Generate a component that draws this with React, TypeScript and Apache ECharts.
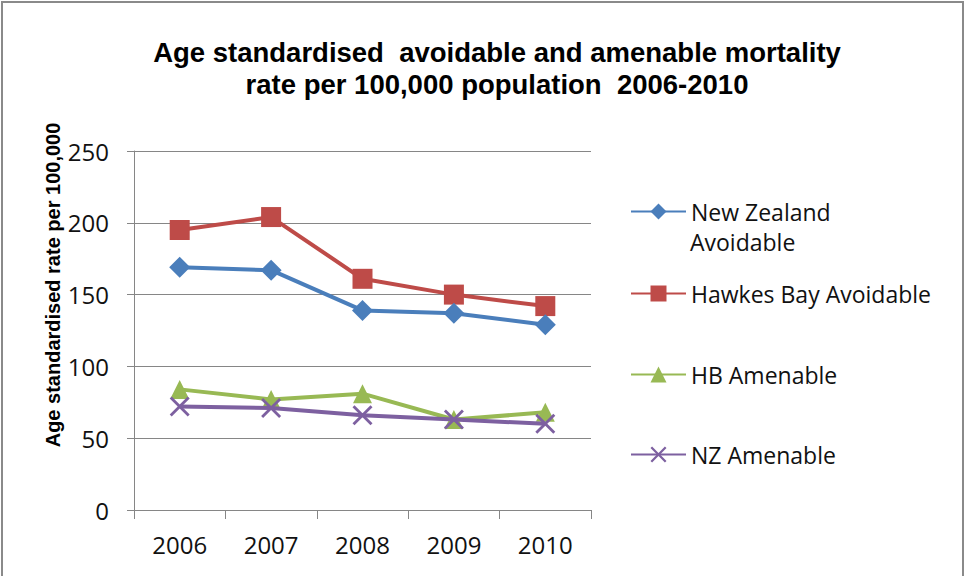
import React, { useEffect, useRef } from "react";
import * as echarts from "echarts";

// Years on the category axis
const years = ["2006", "2007", "2008", "2009", "2010"];

// Age standardised rates per 100,000
const nzAvoidable = [169, 167, 139, 137, 129];
const hbAvoidable = [195, 204, 161, 150, 142];
const hbAmenable = [84, 77, 81, 63, 68];
const nzAmenable = [72, 71, 66, 63, 60];

const seriesNames = [
  "New Zealand Avoidable",
  "Hawkes Bay Avoidable",
  "HB Amenable",
  "NZ Amenable",
];

const TEXT_FONT = "'Open Sans', 'Noto Sans', sans-serif";
const BOLD_FONT = "'Liberation Sans', Arial, sans-serif";

// Filled cross used as the "x" marker
const CROSS =
  "path://M0,1 L1,0 L5,4 L9,0 L10,1 L6,5 L10,9 L9,10 L5,6 L1,10 L0,9 L4,5 Z";

export default function App() {
  const ref = useRef<HTMLDivElement>(null);

  useEffect(() => {
    if (!ref.current) return;
    const chart = echarts.init(ref.current, undefined, { renderer: "svg" });

    const legendBase = (name: string, top: number, formatter?: string) => ({
      orient: "vertical",
      left: 630,
      top,
      padding: 0,
      itemWidth: 55,
      itemHeight: 20,
      itemGap: 5,
      data: [name],
      formatter: formatter ?? "{name}",
      textStyle: { fontFamily: TEXT_FONT, fontSize: 23, color: "#111" },
    });

    chart.setOption({
      animation: false,
      backgroundColor: "#ffffff",
      title: {
        text:
          "Age standardised  avoidable and amenable mortality\nrate per 100,000 population  2006-2010",
        left: 492,
        top: 31,
        textAlign: "center",
        textStyle: {
          fontFamily: BOLD_FONT,
          fontWeight: "bold",
          fontSize: 27.5,
          lineHeight: 32,
          color: "#000",
        },
      },
      legend: [
        legendBase(seriesNames[0], 200, "New Zealand"),
        legendBase(seriesNames[1], 282),
        legendBase(seriesNames[2], 363),
        legendBase(seriesNames[3], 443),
      ],
      graphic: [
        {
          type: "rect",
          shape: { x: 2, y: 2, width: 961, height: 590 },
          style: { fill: "none", stroke: "#8a8a8a", lineWidth: 2 },
          silent: true,
        },
        {
          type: "text",
          x: 690,
          y: 242,
          style: {
            text: "Avoidable",
            fontFamily: TEXT_FONT,
            fontSize: 23,
            fill: "#111",
            textVerticalAlign: "middle",
          },
        },
        {
          type: "text",
          x: 53,
          y: 285,
          rotation: Math.PI / 2,
          style: {
            text: "Age standardised rate per 100,000",
            fontFamily: BOLD_FONT,
            fontWeight: "bold",
            fontSize: 20,
            fill: "#000",
            textAlign: "center",
            textVerticalAlign: "middle",
          },
        },
      ],
      grid: { left: 134, right: 375, top: 151, bottom: 66 },
      xAxis: {
        type: "category",
        data: years,
        boundaryGap: true,
        axisLine: { lineStyle: { color: "#868686", width: 1 } },
        axisTick: { show: true, length: 9, lineStyle: { color: "#868686" } },
        axisLabel: {
          margin: 22,
          fontFamily: TEXT_FONT,
          fontSize: 24,
          color: "#111",
        },
      },
      yAxis: {
        type: "value",
        min: 0,
        max: 250,
        interval: 50,
        axisLine: { show: true, lineStyle: { color: "#868686", width: 1 } },
        axisTick: { show: true, length: 7, lineStyle: { color: "#868686" } },
        splitLine: { lineStyle: { color: "#868686", width: 1 } },
        axisLabel: {
          margin: 25,
          fontFamily: TEXT_FONT,
          fontSize: 24,
          color: "#111",
        },
      },
      series: [
        {
          name: seriesNames[0],
          type: "line",
          data: nzAvoidable,
          symbol: "diamond",
          symbolSize: 21,
          lineStyle: { color: "#4A7EBB", width: 4 },
          itemStyle: { color: "#4A7EBB" },
          z: 4,
        },
        {
          name: seriesNames[1],
          type: "line",
          data: hbAvoidable,
          symbol: "rect",
          symbolSize: 20,
          lineStyle: { color: "#BE4B48", width: 4 },
          itemStyle: { color: "#BE4B48" },
          z: 3,
        },
        {
          name: seriesNames[2],
          type: "line",
          data: hbAmenable,
          symbol: "triangle",
          symbolSize: 19,
          lineStyle: { color: "#98B954", width: 4 },
          itemStyle: { color: "#98B954" },
          z: 2,
        },
        {
          name: seriesNames[3],
          type: "line",
          data: nzAmenable,
          symbol: CROSS,
          symbolSize: 20,
          lineStyle: { color: "#7D60A0", width: 4 },
          itemStyle: { color: "#7D60A0" },
          z: 5,
        },
      ],
    });

    return () => chart.dispose();
  }, []);

  return (
    <div
      ref={ref}
      style={{
        position: "fixed",
        left: 0,
        top: 0,
        width: 966,
        height: 576,
        background: "#fff",
      }}
    />
  );
}
